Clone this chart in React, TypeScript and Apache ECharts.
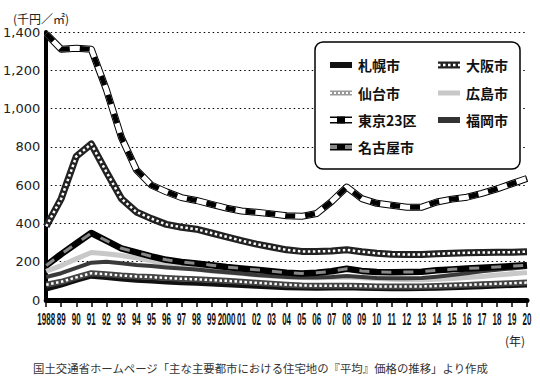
import { useEffect, useRef } from "react";
import * as echarts from "echarts";

const years = [
  "1988", "89", "90", "91", "92", "93", "94", "95", "96", "97", "98", "99", "2000",
  "01", "02", "03", "04", "05", "06", "07", "08", "09", "10", "11", "12", "13",
  "14", "15", "16", "17", "18", "19", "20",
];

const yTicks = [0, 200, 400, 600, 800, 1000, 1200, 1400];

const sapporo = [55, 75, 100, 122, 115, 107, 100, 96, 92, 88, 85, 81, 77, 73, 69, 65, 62, 60, 59, 60, 61, 59, 57, 56, 56, 57, 59, 61, 64, 67, 70, 73, 76];
const sendai = [80, 95, 118, 140, 135, 128, 123, 120, 115, 111, 108, 104, 100, 95, 90, 85, 80, 76, 74, 74, 75, 73, 71, 70, 70, 71, 73, 76, 79, 82, 85, 88, 91];
const tokyo23 = [1390, 1310, 1315, 1310, 1100, 850, 680, 600, 565, 535, 520, 500, 480, 465, 458, 450, 440, 437, 452, 515, 590, 530, 505, 495, 485, 485, 512, 527, 537, 557, 580, 608, 635];
const nagoya = [180, 240, 295, 350, 310, 270, 249, 228, 210, 199, 191, 182, 172, 165, 158, 150, 143, 139, 142, 150, 163, 152, 146, 145, 146, 148, 155, 160, 165, 168, 172, 177, 182];
const osaka = [385, 530, 750, 815, 670, 530, 460, 425, 395, 380, 370, 350, 330, 310, 292, 277, 262, 254, 254, 256, 262, 252, 244, 239, 238, 238, 241, 244, 247, 248, 249, 250, 252];
const hiroshima = [150, 180, 215, 248, 242, 232, 220, 205, 185, 172, 162, 152, 145, 138, 131, 125, 120, 117, 116, 117, 120, 116, 112, 108, 106, 106, 108, 112, 117, 123, 130, 137, 143];
const fukuoka = [120, 140, 168, 195, 200, 192, 183, 177, 170, 164, 159, 152, 145, 138, 130, 125, 120, 117, 117, 120, 125, 120, 115, 113, 113, 115, 122, 130, 140, 150, 158, 165, 172];

const legendNames = ["札幌市", "仙台市", "東京23区", "名古屋市", "大阪市", "広島市", "福岡市"];

function layer(name: string, data: number[], color: string, width: number, type: any = "solid", z = 2) {
  return {
    type: "line",
    name,
    data,
    symbol: "none",
    silent: true,
    z,
    lineStyle: { color, width, type, cap: "butt", join: "round" },
  };
}

function seg(x1: number, y: number, x2: number, stroke: string, lineWidth: number, lineDash?: number[]) {
  return {
    type: "line",
    shape: { x1, y1: y, x2, y2: y },
    style: { stroke, lineWidth, lineDash, lineCap: "butt" },
  };
}

export default function App() {
  const ref = useRef<HTMLDivElement>(null);
  useEffect(() => {
    const chart = echarts.init(ref.current!, null, { renderer: "svg" });
    const c1 = 330, c2 = 438, w = 22;
    const rows = [65, 93, 120, 147];
    const legendGraphics: any[] = [
      {
        type: "rect",
        shape: { x: 315, y: 42, width: 205, height: 127, r: 8 },
        style: { fill: "#fff", stroke: "#000", lineWidth: 1.5 },
      },
      seg(c1, rows[0], c1 + w, "#111", 6),
      seg(c1, rows[1], c1 + w, "#999", 5),
      seg(c1, rows[1], c1 + w, "#fff", 2, [2, 2]),
      seg(c1, rows[2], c1 + w, "#000", 7),
      seg(c1, rows[2], c1 + w, "#fff", 4),
      seg(c1 + 7, rows[2], c1 + 15, "#000", 7),
      seg(c1, rows[3], c1 + w, "#000", 7),
      seg(c1, rows[3], c1 + 7, "#888", 4),
      seg(c1 + 15, rows[3], c1 + w, "#888", 4),
      seg(c2, rows[0], c2 + w, "#222", 7),
      seg(c2, rows[0], c2 + w, "#fff", 2.5, [2.5, 2.5]),
      seg(c2, rows[1], c2 + w, "#c8c8c8", 5),
      seg(c2, rows[2], c2 + w, "#333", 6),
    ];
    const textPos = [
      [358, rows[0]], [358, rows[1]], [358, rows[2]], [358, rows[3]],
      [466, rows[0]], [466, rows[1]], [466, rows[2]],
    ];
    legendNames.forEach((n, i) => {
      legendGraphics.push({
        type: "text",
        x: textPos[i][0],
        y: textPos[i][1],
        style: {
          text: n,
          fill: "#111",
          font: "bold 14px 'Noto Sans CJK JP', sans-serif",
          verticalAlign: "middle",
        },
      });
    });

    chart.setOption({
      animation: false,
      backgroundColor: "#fff",
      grid: { left: 42, right: 13, top: 32, bottom: 86, containLabel: false },
      xAxis: {
        type: "category",
        data: years,
        boundaryGap: false,
        axisLine: { lineStyle: { color: "#000", width: 5 } },
        axisTick: { show: true, interval: 0, length: 7, lineStyle: { color: "#000", width: 1.5 } },
        axisLabel: { show: false },
        splitLine: { show: false },
      },
      yAxis: {
        type: "value",
        min: yTicks[0],
        max: yTicks[yTicks.length - 1],
        interval: 200,
        axisLine: { show: true, lineStyle: { color: "#000", width: 4 } },
        axisTick: { show: false },
        axisLabel: {
          fontSize: 13,
          margin: 6,
          color: "#222",
          fontFamily: "'DejaVu Sans', sans-serif",
          formatter: (v: number) => v.toLocaleString("en-US"),
        },
        splitLine: { show: true, lineStyle: { color: "#000", width: 1, type: [1.5, 3] } },
      },
      series: [
        layer("広島市", hiroshima, "#c8c8c8", 5),
        layer("福岡市", fukuoka, "#3a3a3a", 4),
        layer("札幌市", sapporo, "#111", 4),
        layer("仙台市", sendai, "#444", 6),
        layer("仙台市w", sendai, "#fff", 2.5, [2.5, 2.5]),
        layer("名古屋市", nagoya, "#000", 6.5),
        layer("名古屋市g", nagoya, "#888", 3, [10, 12]),
        layer("大阪市", osaka, "#222", 7),
        layer("大阪市w", osaka, "#fff", 2.5, [2.5, 2.5]),
        layer("東京23区", tokyo23, "#000", 7),
        layer("東京23区w", tokyo23, "#fff", 5),
        layer("東京23区b", tokyo23, "#000", 5, [10, 10]),
      ],
    });

    const yearLabels = years.map((yr, i) => {
      const px = chart.convertToPixel({ xAxisIndex: 0 }, i) as number;
      return {
        type: "text",
        x: px,
        y: 319,
        scaleX: 0.47,
        style: {
          text: yr,
          fill: "#111",
          font: "bold 17px 'Liberation Sans', sans-serif",
          align: "center",
          verticalAlign: "middle",
        },
      };
    });

    chart.setOption({
      graphic: [
        {
          type: "text",
          x: 13,
          y: 18,
          style: {
            text: "(千円／㎡)",
            fill: "#222",
            font: "12px 'Noto Sans CJK JP', sans-serif",
            verticalAlign: "middle",
          },
        },
        {
          type: "text",
          x: 505,
          y: 340,
          style: {
            text: "(年)",
            fill: "#222",
            font: "12px 'Noto Sans CJK JP', sans-serif",
            verticalAlign: "middle",
          },
        },
        {
          type: "text",
          x: 33,
          y: 368,
          style: {
            text: "国土交通省ホームページ「主な主要都市における住宅地の『平均』価格の推移」より作成",
            fill: "#333",
            font: "11.4px 'Noto Sans CJK JP', sans-serif",
            verticalAlign: "middle",
          },
        },
        { type: "group", children: yearLabels },
        { type: "group", z: 100, children: legendGraphics },
      ],
    });
    return () => chart.dispose();
  }, []);
  return <div ref={ref} style={{ position: "fixed", left: 0, top: 0, width: 540, height: 386 }} />;
}
